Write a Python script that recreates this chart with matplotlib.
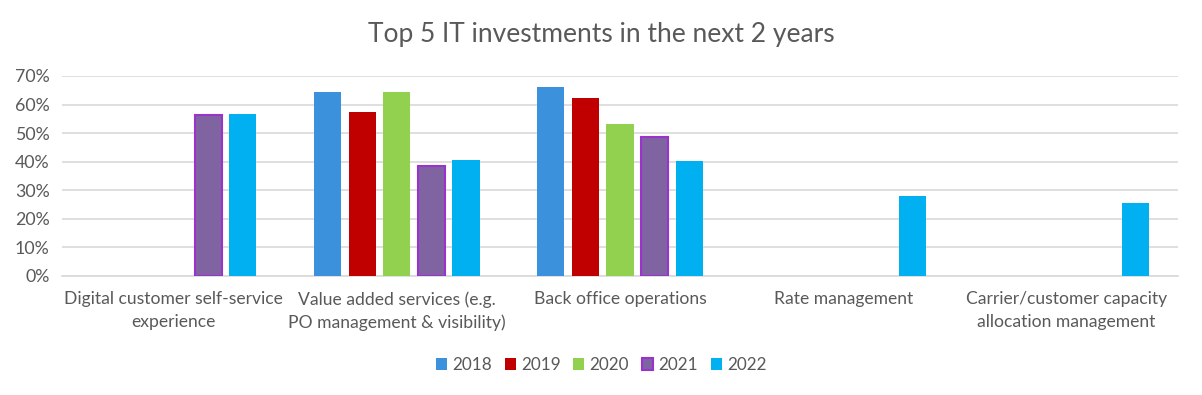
import numpy as np
import matplotlib.pyplot as plt
from matplotlib.ticker import PercentFormatter

plt.rcParams['font.family'] = ['Lato', 'DejaVu Sans']

categories = ['Digital customer self-service\nexperience',
              'Value added services (e.g.\nPO management & visibility)',
              'Back office operations',
              'Rate management',
              'Carrier/customer capacity\nallocation management']
years = ['2018', '2019', '2020', '2021', '2022']
# nan = no bar for that year
v2018 = [np.nan, 0.645, 0.66, np.nan, np.nan]
v2019 = [np.nan, 0.573, 0.622, np.nan, np.nan]
v2020 = [np.nan, 0.645, 0.533, np.nan, np.nan]
v2021 = [0.563, 0.385, 0.488, np.nan, np.nan]
v2022 = [0.568, 0.407, 0.403, 0.281, 0.256]
series = [v2018, v2019, v2020, v2021, v2022]

colors = ['#3C91DC', '#C00000', '#92D050', '#8064A2', '#00B0F0']
edges = [None, None, None, '#9933CC', None]

fig = plt.figure(figsize=(12.02, 3.95), dpi=100)
ax = fig.add_axes([62 / 1202, 119 / 395, 1116 / 1202, 200 / 395])

x = np.arange(len(categories))
step = 0.155
width = 0.122
for i, (vals, year) in enumerate(zip(series, years)):
    offs = (i - 2) * step
    kw = {}
    if edges[i]:
        kw = dict(edgecolor=edges[i], linewidth=1.5)
    ax.bar(x + offs, vals, width, color=colors[i], label=year, zorder=3, **kw)

ax.set_xlim(-0.5, len(categories) - 0.5)
ax.set_ylim(0, 0.7)
ax.set_yticks(np.arange(0, 0.71, 0.1))
ax.yaxis.set_major_formatter(PercentFormatter(1.0, decimals=0))
ax.grid(axis='y', color='#D9D9D9', linewidth=1.2, zorder=0)
for s in ['top', 'right', 'left']:
    ax.spines[s].set_visible(False)
ax.spines['bottom'].set_color('#D9D9D9')
ax.spines['bottom'].set_linewidth(1.2)
ax.set_xticks(x)
ax.set_xticklabels(categories, fontsize=12.6, color='#595959', linespacing=1.5)
ax.tick_params(axis='x', length=0, pad=11)
ax.tick_params(axis='y', length=0, labelsize=12.8, labelcolor='#595959', pad=9)

fig.suptitle('Top 5 IT investments in the next 2 years', fontsize=19,
             color='#595959', y=0.945)

fig.legend(loc='center', bbox_to_anchor=(0.5, 30 / 395), ncol=5, frameon=False,
           fontsize=12.3, labelcolor='#595959', handlelength=0.65, handleheight=0.65,
           handletextpad=0.3, columnspacing=0.75)

fig.savefig('out.png', dpi=100)
